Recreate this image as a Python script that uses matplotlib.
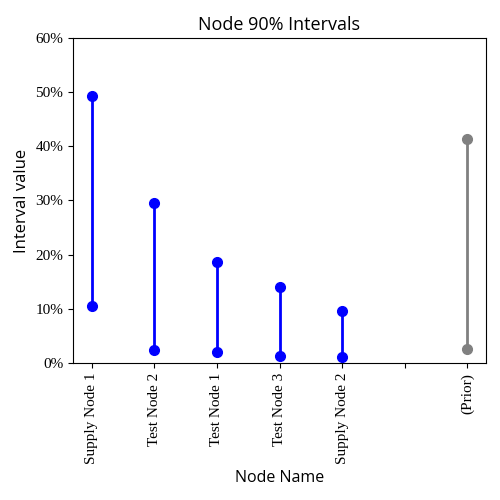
import matplotlib
matplotlib.use('Agg')
import matplotlib.pyplot as plt
from matplotlib.ticker import PercentFormatter

# interval data
nodes = ['Supply Node 1', 'Test Node 2', 'Test Node 1', 'Test Node 3', 'Supply Node 2']
lows = [0.105, 0.024, 0.020, 0.013, 0.011]
highs = [0.493, 0.295, 0.186, 0.140, 0.096]
prior_low = 0.026
prior_high = 0.413
tick_labels = nodes + ['', '(Prior)']

fig = plt.figure(figsize=(5, 5), dpi=100)
ax = fig.add_axes([0.146, 0.274, 0.826, 0.65])

for i, (lo, hi) in enumerate(zip(lows, highs)):
    ax.plot([i, i], [lo, hi], color='blue', marker='o', markersize=7, linewidth=2)

ip = len(nodes) + 1
ax.plot([ip, ip], [prior_low, prior_high], color='grey', marker='o', markersize=7, linewidth=2)

ax.set_xticks(range(len(tick_labels)))
ax.set_xticklabels(tick_labels, rotation=90, family='Liberation Serif', fontsize=11)
ax.set_ylim(0, 0.6)
ax.yaxis.set_major_formatter(PercentFormatter(1.0, decimals=0))
for lab in ax.get_yticklabels():
    lab.set_family('Liberation Serif')
    lab.set_fontsize(11)

ax.set_title('Node 90% Intervals', fontsize=13, family='Open Sans')
ax.set_xlabel('Node Name', fontsize=11.5, family='Open Sans')
ax.set_ylabel('Interval value', fontsize=12, family='Open Sans')

plt.savefig('out.png')
